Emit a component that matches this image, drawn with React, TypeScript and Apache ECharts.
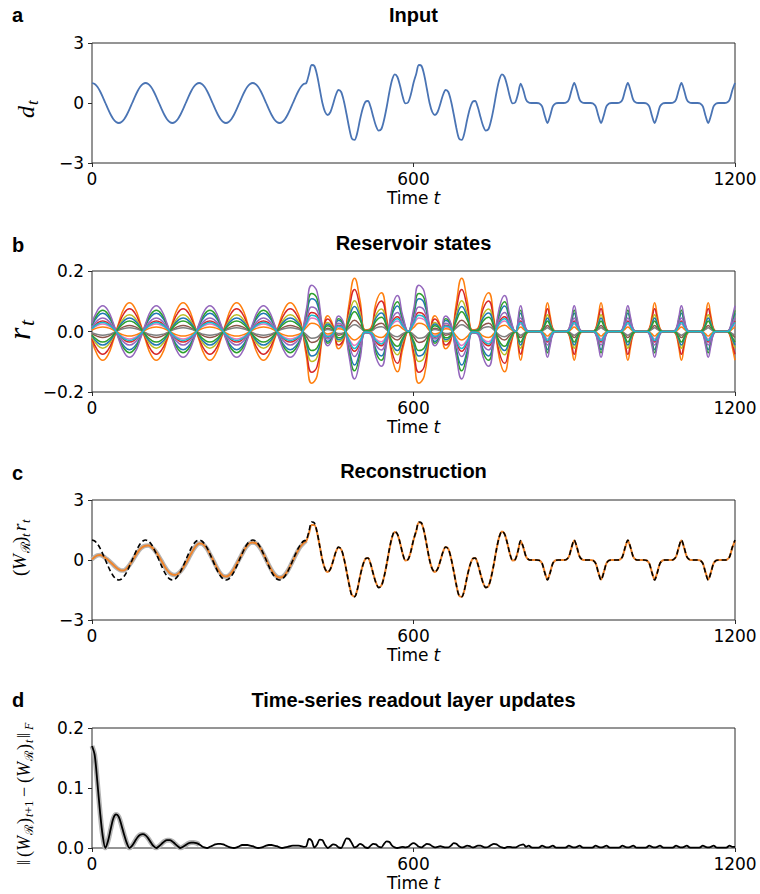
import React, { useEffect, useRef } from "react";
import * as echarts from "echarts";

// ---------- sampling grids (time t) ----------
const T5 = Array.from({ length: 241 }, (_, i) => i * 5);
// reservoir states: step 10 up to t = 790, step 5 from t = 800 (narrow pulses)
const T_RES = [
  ...Array.from({ length: 80 }, (_, i) => i * 10),
  ...Array.from({ length: 81 }, (_, i) => 800 + i * 5),
];

// ---------- panel a: input d_t (t = 0..1200, step 5) ----------
const inputD = [
  1, 0.95, 0.81, 0.59, 0.31, 0, -0.31, -0.59, -0.81, -0.95, -1, -0.95, -0.81, -0.59, -0.31, 0, 0.31, 0.59, 0.81, 0.95,
  1, 0.95, 0.81, 0.59, 0.31, 0, -0.31, -0.59, -0.81, -0.95, -1, -0.95, -0.81, -0.59, -0.31, 0, 0.31, 0.59, 0.81, 0.95,
  1, 0.95, 0.81, 0.59, 0.31, 0, -0.31, -0.59, -0.81, -0.95, -1, -0.95, -0.81, -0.59, -0.31, 0, 0.31, 0.59, 0.81, 0.95,
  1, 0.95, 0.81, 0.59, 0.31, 0, -0.31, -0.59, -0.81, -0.95, -1, -0.95, -0.81, -0.59, -0.31, 0, 0.31, 0.59, 0.81, 0.95,
  1.0, 1.45, 1.9, 1.85, 1.4, 0.7, 0.0, -0.45, -0.6, -0.45, -0.05, 0.4, 0.65, 0.55, 0.1, -0.55, -1.25, -1.78, -1.84, -1.5,
  -0.85, -0.3, 0.05, 0.1, -0.2, -0.7, -1.15, -1.38, -1.3, -0.85, -0.2, 0.55, 1.15, 1.43, 1.3, 0.85, 0.3, -0.02, 0.03, 0.42,
  1.0, 1.45, 1.9, 1.85, 1.4, 0.7, 0.0, -0.45, -0.6, -0.45, -0.05, 0.4, 0.65, 0.55, 0.1, -0.55, -1.25, -1.78, -1.84, -1.5,
  -0.85, -0.3, 0.05, 0.1, -0.2, -0.7, -1.15, -1.38, -1.3, -0.85, -0.2, 0.55, 1.15, 1.43, 1.3, 0.85, 0.3, -0.02, 0.03, 0.45,
  0.97, 0.64, 0.17, 0.02, 0, 0, 0, -0.02, -0.17, -0.64, -1, -0.64, -0.17, -0.02, 0, 0, 0, 0.02, 0.17, 0.64,
  1, 0.64, 0.17, 0.02, 0, 0, 0, -0.02, -0.17, -0.64, -1, -0.64, -0.17, -0.02, 0, 0, 0, 0.02, 0.17, 0.64,
  1, 0.64, 0.17, 0.02, 0, 0, 0, -0.02, -0.17, -0.64, -1, -0.64, -0.17, -0.02, 0, 0, 0, 0.02, 0.17, 0.64,
  1, 0.64, 0.17, 0.02, 0, 0, 0, -0.02, -0.17, -0.64, -1, -0.64, -0.17, -0.02, 0, 0, 0, 0.02, 0.17, 0.64,
  1,
];

// ---------- panel c: reconstruction (W_R)_t r_t (step 5) ----------
const reconD = [
  0.03, 0.15, 0.23, 0.25, 0.2, 0.1, 0.0, -0.12, -0.25, -0.37, -0.47, -0.53, -0.52, -0.42, -0.25, -0.05, 0.17, 0.38, 0.55, 0.66,
  0.71, 0.72, 0.67, 0.55, 0.38, 0.17, -0.06, -0.3, -0.5, -0.65, -0.73, -0.75, -0.7, -0.58, -0.4, -0.18, 0.07, 0.32, 0.55, 0.73,
  0.83, 0.82, 0.72, 0.55, 0.3, 0.05, -0.22, -0.48, -0.68, -0.8, -0.83, -0.78, -0.65, -0.45, -0.2, 0.05, 0.3, 0.55, 0.73, 0.85,
  0.88, 0.85, 0.74, 0.55, 0.3, 0.03, -0.25, -0.5, -0.7, -0.83, -0.87, -0.85, -0.74, -0.55, -0.3, -0.03, 0.25, 0.5, 0.7, 0.85,
  0.95, 1.35, 1.75, 1.75, 1.38, 0.7, 0.0, -0.45, -0.6, -0.45, -0.05, 0.4, 0.63, 0.53, 0.1, -0.55, -1.22, -1.74, -1.82, -1.5,
  -0.85, -0.3, 0.05, 0.1, -0.2, -0.7, -1.13, -1.36, -1.28, -0.85, -0.2, 0.53, 1.12, 1.4, 1.28, 0.85, 0.3, -0.02, 0.03, 0.42,
  1.0, 1.43, 1.87, 1.83, 1.4, 0.7, 0.0, -0.45, -0.6, -0.45, -0.05, 0.4, 0.65, 0.55, 0.1, -0.55, -1.25, -1.78, -1.84, -1.5,
  -0.85, -0.3, 0.05, 0.1, -0.2, -0.7, -1.15, -1.38, -1.3, -0.85, -0.2, 0.55, 1.15, 1.43, 1.3, 0.85, 0.3, -0.02, 0.03, 0.45,
  0.95, 0.62, 0.17, 0.02, 0, 0, 0, -0.02, -0.17, -0.62, -0.97, -0.62, -0.17, -0.02, 0, 0, 0, 0.02, 0.17, 0.62,
  0.97, 0.62, 0.17, 0.02, 0, 0, 0, -0.02, -0.17, -0.62, -0.97, -0.62, -0.17, -0.02, 0, 0, 0, 0.02, 0.17, 0.62,
  0.97, 0.62, 0.17, 0.02, 0, 0, 0, -0.02, -0.17, -0.62, -0.97, -0.62, -0.17, -0.02, 0, 0, 0, 0.02, 0.17, 0.62,
  0.97, 0.62, 0.17, 0.02, 0, 0, 0, -0.02, -0.17, -0.62, -0.97, -0.62, -0.17, -0.02, 0, 0, 0, 0.02, 0.17, 0.62,
  0.95,
];

// ---------- panel d: ||(W_R)_{t+1} - (W_R)_t||_F (step 5) ----------
const updateNorm = [
  0.17, 0.155, 0.11, 0.06, 0.02, 0.0, 0.012, 0.032, 0.05, 0.056, 0.052, 0.038, 0.022, 0.008, 0.0, 0.004, 0.011, 0.018, 0.022, 0.023,
  0.021, 0.016, 0.009, 0.003, 0.0, 0.003, 0.007, 0.011, 0.013, 0.013, 0.011, 0.007, 0.003, 0.0, 0.002, 0.005, 0.008, 0.009, 0.009, 0.008,
  0.006, 0.003, 0.001, 0.0, 0.002, 0.004, 0.006, 0.007, 0.007, 0.006, 0.004, 0.002, 0.0005, 0.0, 0.001, 0.003, 0.005, 0.005, 0.005, 0.004,
  0.003, 0.001, 0.0, 0.0005, 0.002, 0.004, 0.005, 0.005, 0.004, 0.003, 0.001, 0.0, 0.001, 0.002, 0.003, 0.004, 0.004, 0.004, 0.003, 0.002,
  0.003, 0.015, 0.012, 0.001, 0.006, 0.014, 0.013, 0.005, 0.0, 0.003, 0.006, 0.005, 0.001, 0.0, 0.008, 0.016, 0.015, 0.008, 0.001, 0.003,
  0.007, 0.005, 0.001, 0.0, 0.004, 0.007, 0.006, 0.002, 0.001, 0.007, 0.011, 0.01, 0.004, 0.001, 0.0, 0.001, 0.002, 0.001, 0.002, 0.006,
  0.008, 0.006, 0.002, 0.001, 0.004, 0.007, 0.006, 0.003, 0.001, 0.002, 0.003, 0.002, 0.001, 0.001, 0.004, 0.008, 0.007, 0.003, 0.001, 0.002,
  0.004, 0.003, 0.001, 0.002, 0.004, 0.004, 0.002, 0.001, 0.002, 0.005, 0.007, 0.006, 0.003, 0.001, 0.0, 0.002, 0.002, 0.001, 0.001, 0.003,
  0.005, 0.006, 0.002, 0.004, 0.001, 0.0005, 0.0005, 0.001, 0.004, 0.002, 0.001, 0.002, 0.004, 0.001, 0.0005, 0.0005, 0.0005, 0.001, 0.004, 0.002,
  0.001, 0.002, 0.004, 0.001, 0.0005, 0.0005, 0.0005, 0.001, 0.004, 0.002, 0.001, 0.002, 0.004, 0.001, 0.0005, 0.0005, 0.0005, 0.001, 0.004, 0.002,
  0.001, 0.002, 0.004, 0.001, 0.0005, 0.0005, 0.0005, 0.001, 0.004, 0.002, 0.001, 0.002, 0.004, 0.001, 0.0005, 0.0005, 0.0005, 0.001, 0.004, 0.002,
  0.001, 0.002, 0.004, 0.001, 0.0005, 0.0005, 0.0005, 0.001, 0.004, 0.002, 0.001, 0.002, 0.004, 0.001, 0.0005, 0.0005, 0.0005, 0.001, 0.004, 0.002,
  0.002,
];

// ---------- panel b: reservoir states r_t (on T_RES) ----------
const resBlue = [
  0.019, 0.049, 0.06, 0.049, 0.019, -0.019, -0.049, -0.06, -0.049, -0.019,
  0.019, 0.049, 0.06, 0.049, 0.019, -0.019, -0.049, -0.06, -0.049, -0.019,
  0.019, 0.049, 0.06, 0.049, 0.019, -0.019, -0.049, -0.06, -0.049, -0.019,
  0.019, 0.049, 0.06, 0.049, 0.019, -0.019, -0.049, -0.06, -0.049, -0.019,
  0.051, 0.108, 0.093, 0.012, -0.033, -0.012, 0.036, 0.018, -0.06, -0.111, -0.066, -0.003, -0.006, -0.06, -0.081, -0.027, 0.054, 0.084, 0.036, 0,
  0.051, 0.108, 0.093, 0.012, -0.033, -0.012, 0.036, 0.018, -0.06, -0.111, -0.066, -0.003, -0.006, -0.06, -0.081, -0.027, 0.054, 0.084, 0.036, 0,
  0.06, 0.033, 0.006, 0.001, 0, 0, 0, -0.001, -0.006, -0.033, -0.06, -0.033, -0.006, -0.001, 0, 0, 0, 0.001, 0.006, 0.033,
  0.06, 0.033, 0.006, 0.001, 0, 0, 0, -0.001, -0.006, -0.033, -0.06, -0.033, -0.006, -0.001, 0, 0, 0, 0.001, 0.006, 0.033,
  0.06, 0.033, 0.006, 0.001, 0, 0, 0, -0.001, -0.006, -0.033, -0.06, -0.033, -0.006, -0.001, 0, 0, 0, 0.001, 0.006, 0.033,
  0.06, 0.033, 0.006, 0.001, 0, 0, 0, -0.001, -0.006, -0.033, -0.06, -0.033, -0.006, -0.001, 0, 0, 0, 0.001, 0.006, 0.033,
  0.06,
];
const resOrange = [
  -0.029, -0.077, -0.095, -0.077, -0.029, 0.029, 0.077, 0.095, 0.077, 0.029,
  -0.029, -0.077, -0.095, -0.077, -0.029, 0.029, 0.077, 0.095, 0.077, 0.029,
  -0.029, -0.077, -0.095, -0.077, -0.029, 0.029, 0.077, 0.095, 0.077, 0.029,
  -0.029, -0.077, -0.095, -0.077, -0.029, 0.029, 0.077, 0.095, 0.077, 0.029,
  -0.081, -0.171, -0.147, -0.019, 0.052, 0.019, -0.057, -0.029, 0.095, 0.176, 0.105, 0.005, 0.01, 0.095, 0.128, 0.043, -0.086, -0.133, -0.057, 0,
  -0.081, -0.171, -0.147, -0.019, 0.052, 0.019, -0.057, -0.029, 0.095, 0.176, 0.105, 0.005, 0.01, 0.095, 0.128, 0.043, -0.086, -0.133, -0.057, 0,
  -0.095, -0.052, -0.01, -0.001, 0, 0, 0, 0.001, 0.01, 0.052, 0.095, 0.052, 0.01, 0.001, 0, 0, 0, -0.001, -0.01, -0.052,
  -0.095, -0.052, -0.01, -0.001, 0, 0, 0, 0.001, 0.01, 0.052, 0.095, 0.052, 0.01, 0.001, 0, 0, 0, -0.001, -0.01, -0.052,
  -0.095, -0.052, -0.01, -0.001, 0, 0, 0, 0.001, 0.01, 0.052, 0.095, 0.052, 0.01, 0.001, 0, 0, 0, -0.001, -0.01, -0.052,
  -0.095, -0.052, -0.01, -0.001, 0, 0, 0, 0.001, 0.01, 0.052, 0.095, 0.052, 0.01, 0.001, 0, 0, 0, -0.001, -0.01, -0.052,
  -0.095,
];
const resGreen = [
  0.022, 0.057, 0.07, 0.057, 0.022, -0.022, -0.057, -0.07, -0.057, -0.022,
  0.022, 0.057, 0.07, 0.057, 0.022, -0.022, -0.057, -0.07, -0.057, -0.022,
  0.022, 0.057, 0.07, 0.057, 0.022, -0.022, -0.057, -0.07, -0.057, -0.022,
  0.022, 0.057, 0.07, 0.057, 0.022, -0.022, -0.057, -0.07, -0.057, -0.022,
  0.06, 0.126, 0.109, 0.014, -0.039, -0.014, 0.042, 0.021, -0.07, -0.13, -0.077, -0.004, -0.007, -0.07, -0.095, -0.032, 0.063, 0.098, 0.042, 0,
  0.06, 0.126, 0.109, 0.014, -0.039, -0.014, 0.042, 0.021, -0.07, -0.13, -0.077, -0.004, -0.007, -0.07, -0.095, -0.032, 0.063, 0.098, 0.042, 0,
  0.07, 0.039, 0.007, 0.001, 0, 0, 0, -0.001, -0.007, -0.039, -0.07, -0.039, -0.007, -0.001, 0, 0, 0, 0.001, 0.007, 0.039,
  0.07, 0.039, 0.007, 0.001, 0, 0, 0, -0.001, -0.007, -0.039, -0.07, -0.039, -0.007, -0.001, 0, 0, 0, 0.001, 0.007, 0.039,
  0.07, 0.039, 0.007, 0.001, 0, 0, 0, -0.001, -0.007, -0.039, -0.07, -0.039, -0.007, -0.001, 0, 0, 0, 0.001, 0.007, 0.039,
  0.07, 0.039, 0.007, 0.001, 0, 0, 0, -0.001, -0.007, -0.039, -0.07, -0.039, -0.007, -0.001, 0, 0, 0, 0.001, 0.007, 0.039,
  0.07,
];
const resRed = [
  -0.023, -0.061, -0.075, -0.061, -0.023, 0.023, 0.061, 0.075, 0.061, 0.023,
  -0.023, -0.061, -0.075, -0.061, -0.023, 0.023, 0.061, 0.075, 0.061, 0.023,
  -0.023, -0.061, -0.075, -0.061, -0.023, 0.023, 0.061, 0.075, 0.061, 0.023,
  -0.023, -0.061, -0.075, -0.061, -0.023, 0.023, 0.061, 0.075, 0.061, 0.023,
  -0.064, -0.135, -0.116, -0.015, 0.041, 0.015, -0.045, -0.023, 0.075, 0.139, 0.083, 0.004, 0.008, 0.075, 0.101, 0.034, -0.068, -0.105, -0.045, 0,
  -0.064, -0.135, -0.116, -0.015, 0.041, 0.015, -0.045, -0.023, 0.075, 0.139, 0.083, 0.004, 0.008, 0.075, 0.101, 0.034, -0.068, -0.105, -0.045, 0,
  -0.075, -0.041, -0.008, -0.001, 0, 0, 0, 0.001, 0.008, 0.041, 0.075, 0.041, 0.008, 0.001, 0, 0, 0, -0.001, -0.008, -0.041,
  -0.075, -0.041, -0.008, -0.001, 0, 0, 0, 0.001, 0.008, 0.041, 0.075, 0.041, 0.008, 0.001, 0, 0, 0, -0.001, -0.008, -0.041,
  -0.075, -0.041, -0.008, -0.001, 0, 0, 0, 0.001, 0.008, 0.041, 0.075, 0.041, 0.008, 0.001, 0, 0, 0, -0.001, -0.008, -0.041,
  -0.075, -0.041, -0.008, -0.001, 0, 0, 0, 0.001, 0.008, 0.041, 0.075, 0.041, 0.008, 0.001, 0, 0, 0, -0.001, -0.008, -0.041,
  -0.075,
];
const resPurple = [
  0.026, 0.069, 0.085, 0.069, 0.026, -0.026, -0.069, -0.085, -0.069, -0.026,
  0.026, 0.069, 0.085, 0.069, 0.026, -0.026, -0.069, -0.085, -0.069, -0.026,
  0.026, 0.069, 0.085, 0.069, 0.026, -0.026, -0.069, -0.085, -0.069, -0.026,
  0.026, 0.069, 0.085, 0.069, 0.026, -0.026, -0.069, -0.085, -0.069, -0.026,
  0.072, 0.153, 0.132, 0.017, -0.047, -0.017, 0.051, 0.026, -0.085, -0.157, -0.094, -0.004, -0.009, -0.085, -0.115, -0.038, 0.077, 0.119, 0.051, 0,
  0.072, 0.153, 0.132, 0.017, -0.047, -0.017, 0.051, 0.026, -0.085, -0.157, -0.094, -0.004, -0.009, -0.085, -0.115, -0.038, 0.077, 0.119, 0.051, 0,
  0.085, 0.047, 0.009, 0.001, 0, 0, 0, -0.001, -0.009, -0.047, -0.085, -0.047, -0.009, -0.001, 0, 0, 0, 0.001, 0.009, 0.047,
  0.085, 0.047, 0.009, 0.001, 0, 0, 0, -0.001, -0.009, -0.047, -0.085, -0.047, -0.009, -0.001, 0, 0, 0, 0.001, 0.009, 0.047,
  0.085, 0.047, 0.009, 0.001, 0, 0, 0, -0.001, -0.009, -0.047, -0.085, -0.047, -0.009, -0.001, 0, 0, 0, 0.001, 0.009, 0.047,
  0.085, 0.047, 0.009, 0.001, 0, 0, 0, -0.001, -0.009, -0.047, -0.085, -0.047, -0.009, -0.001, 0, 0, 0, 0.001, 0.009, 0.047,
  0.085,
];
const resBrown = [
  -0.006, -0.016, -0.02, -0.016, -0.006, 0.006, 0.016, 0.02, 0.016, 0.006,
  -0.006, -0.016, -0.02, -0.016, -0.006, 0.006, 0.016, 0.02, 0.016, 0.006,
  -0.006, -0.016, -0.02, -0.016, -0.006, 0.006, 0.016, 0.02, 0.016, 0.006,
  -0.006, -0.016, -0.02, -0.016, -0.006, 0.006, 0.016, 0.02, 0.016, 0.006,
  -0.017, -0.036, -0.031, -0.004, 0.011, 0.004, -0.012, -0.006, 0.02, 0.037, 0.022, 0.001, 0.002, 0.02, 0.027, 0.009, -0.018, -0.028, -0.012, 0,
  -0.017, -0.036, -0.031, -0.004, 0.011, 0.004, -0.012, -0.006, 0.02, 0.037, 0.022, 0.001, 0.002, 0.02, 0.027, 0.009, -0.018, -0.028, -0.012, 0,
  -0.02, -0.011, -0.002, 0, 0, 0, 0, 0, 0.002, 0.011, 0.02, 0.011, 0.002, 0, 0, 0, 0, 0, -0.002, -0.011,
  -0.02, -0.011, -0.002, 0, 0, 0, 0, 0, 0.002, 0.011, 0.02, 0.011, 0.002, 0, 0, 0, 0, 0, -0.002, -0.011,
  -0.02, -0.011, -0.002, 0, 0, 0, 0, 0, 0.002, 0.011, 0.02, 0.011, 0.002, 0, 0, 0, 0, 0, -0.002, -0.011,
  -0.02, -0.011, -0.002, 0, 0, 0, 0, 0, 0.002, 0.011, 0.02, 0.011, 0.002, 0, 0, 0, 0, 0, -0.002, -0.011,
  -0.02,
];
const resPink = [
  0.008, 0.02, 0.025, 0.02, 0.008, -0.008, -0.02, -0.025, -0.02, -0.008,
  0.008, 0.02, 0.025, 0.02, 0.008, -0.008, -0.02, -0.025, -0.02, -0.008,
  0.008, 0.02, 0.025, 0.02, 0.008, -0.008, -0.02, -0.025, -0.02, -0.008,
  0.008, 0.02, 0.025, 0.02, 0.008, -0.008, -0.02, -0.025, -0.02, -0.008,
  0.021, 0.045, 0.039, 0.005, -0.014, -0.005, 0.015, 0.008, -0.025, -0.046, -0.028, -0.001, -0.003, -0.025, -0.034, -0.011, 0.023, 0.035, 0.015, 0,
  0.021, 0.045, 0.039, 0.005, -0.014, -0.005, 0.015, 0.008, -0.025, -0.046, -0.028, -0.001, -0.003, -0.025, -0.034, -0.011, 0.023, 0.035, 0.015, 0,
  0.025, 0.014, 0.003, 0, 0, 0, 0, 0, -0.003, -0.014, -0.025, -0.014, -0.003, 0, 0, 0, 0, 0, 0.003, 0.014,
  0.025, 0.014, 0.003, 0, 0, 0, 0, 0, -0.003, -0.014, -0.025, -0.014, -0.003, 0, 0, 0, 0, 0, 0.003, 0.014,
  0.025, 0.014, 0.003, 0, 0, 0, 0, 0, -0.003, -0.014, -0.025, -0.014, -0.003, 0, 0, 0, 0, 0, 0.003, 0.014,
  0.025, 0.014, 0.003, 0, 0, 0, 0, 0, -0.003, -0.014, -0.025, -0.014, -0.003, 0, 0, 0, 0, 0, 0.003, 0.014,
  0.025,
];
const resGray = [
  -0.004, -0.01, -0.012, -0.01, -0.004, 0.004, 0.01, 0.012, 0.01, 0.004,
  -0.004, -0.01, -0.012, -0.01, -0.004, 0.004, 0.01, 0.012, 0.01, 0.004,
  -0.004, -0.01, -0.012, -0.01, -0.004, 0.004, 0.01, 0.012, 0.01, 0.004,
  -0.004, -0.01, -0.012, -0.01, -0.004, 0.004, 0.01, 0.012, 0.01, 0.004,
  -0.01, -0.022, -0.019, -0.002, 0.007, 0.002, -0.007, -0.004, 0.012, 0.022, 0.013, 0.001, 0.001, 0.012, 0.016, 0.005, -0.011, -0.017, -0.007, 0,
  -0.01, -0.022, -0.019, -0.002, 0.007, 0.002, -0.007, -0.004, 0.012, 0.022, 0.013, 0.001, 0.001, 0.012, 0.016, 0.005, -0.011, -0.017, -0.007, 0,
  -0.012, -0.007, -0.001, 0, 0, 0, 0, 0, 0.001, 0.007, 0.012, 0.007, 0.001, 0, 0, 0, 0, 0, -0.001, -0.007,
  -0.012, -0.007, -0.001, 0, 0, 0, 0, 0, 0.001, 0.007, 0.012, 0.007, 0.001, 0, 0, 0, 0, 0, -0.001, -0.007,
  -0.012, -0.007, -0.001, 0, 0, 0, 0, 0, 0.001, 0.007, 0.012, 0.007, 0.001, 0, 0, 0, 0, 0, -0.001, -0.007,
  -0.012, -0.007, -0.001, 0, 0, 0, 0, 0, 0.001, 0.007, 0.012, 0.007, 0.001, 0, 0, 0, 0, 0, -0.001, -0.007,
  -0.012,
];
const resOlive = [
  -0.017, -0.045, -0.055, -0.045, -0.017, 0.017, 0.045, 0.055, 0.045, 0.017,
  -0.017, -0.045, -0.055, -0.045, -0.017, 0.017, 0.045, 0.055, 0.045, 0.017,
  -0.017, -0.045, -0.055, -0.045, -0.017, 0.017, 0.045, 0.055, 0.045, 0.017,
  -0.017, -0.045, -0.055, -0.045, -0.017, 0.017, 0.045, 0.055, 0.045, 0.017,
  -0.047, -0.099, -0.085, -0.011, 0.03, 0.011, -0.033, -0.017, 0.055, 0.102, 0.061, 0.003, 0.006, 0.055, 0.074, 0.025, -0.05, -0.077, -0.033, 0,
  -0.047, -0.099, -0.085, -0.011, 0.03, 0.011, -0.033, -0.017, 0.055, 0.102, 0.061, 0.003, 0.006, 0.055, 0.074, 0.025, -0.05, -0.077, -0.033, 0,
  -0.055, -0.03, -0.006, -0.001, 0, 0, 0, 0.001, 0.006, 0.03, 0.055, 0.03, 0.006, 0.001, 0, 0, 0, -0.001, -0.006, -0.03,
  -0.055, -0.03, -0.006, -0.001, 0, 0, 0, 0.001, 0.006, 0.03, 0.055, 0.03, 0.006, 0.001, 0, 0, 0, -0.001, -0.006, -0.03,
  -0.055, -0.03, -0.006, -0.001, 0, 0, 0, 0.001, 0.006, 0.03, 0.055, 0.03, 0.006, 0.001, 0, 0, 0, -0.001, -0.006, -0.03,
  -0.055, -0.03, -0.006, -0.001, 0, 0, 0, 0.001, 0.006, 0.03, 0.055, 0.03, 0.006, 0.001, 0, 0, 0, -0.001, -0.006, -0.03,
  -0.055,
];
const resBlue2 = [
  -0.014, -0.036, -0.045, -0.036, -0.014, 0.014, 0.036, 0.045, 0.036, 0.014,
  -0.014, -0.036, -0.045, -0.036, -0.014, 0.014, 0.036, 0.045, 0.036, 0.014,
  -0.014, -0.036, -0.045, -0.036, -0.014, 0.014, 0.036, 0.045, 0.036, 0.014,
  -0.014, -0.036, -0.045, -0.036, -0.014, 0.014, 0.036, 0.045, 0.036, 0.014,
  -0.038, -0.081, -0.07, -0.009, 0.025, 0.009, -0.027, -0.014, 0.045, 0.083, 0.05, 0.002, 0.005, 0.045, 0.061, 0.02, -0.041, -0.063, -0.027, 0,
  -0.038, -0.081, -0.07, -0.009, 0.025, 0.009, -0.027, -0.014, 0.045, 0.083, 0.05, 0.002, 0.005, 0.045, 0.061, 0.02, -0.041, -0.063, -0.027, 0,
  -0.045, -0.025, -0.005, 0, 0, 0, 0, 0, 0.005, 0.025, 0.045, 0.025, 0.005, 0, 0, 0, 0, 0, -0.005, -0.025,
  -0.045, -0.025, -0.005, 0, 0, 0, 0, 0, 0.005, 0.025, 0.045, 0.025, 0.005, 0, 0, 0, 0, 0, -0.005, -0.025,
  -0.045, -0.025, -0.005, 0, 0, 0, 0, 0, 0.005, 0.025, 0.045, 0.025, 0.005, 0, 0, 0, 0, 0, -0.005, -0.025,
  -0.045, -0.025, -0.005, 0, 0, 0, 0, 0, 0.005, 0.025, 0.045, 0.025, 0.005, 0, 0, 0, 0, 0, -0.005, -0.025,
  -0.045,
];
const resOrange2 = [
  0.005, 0.012, 0.015, 0.012, 0.005, -0.005, -0.012, -0.015, -0.012, -0.005,
  0.005, 0.012, 0.015, 0.012, 0.005, -0.005, -0.012, -0.015, -0.012, -0.005,
  0.005, 0.012, 0.015, 0.012, 0.005, -0.005, -0.012, -0.015, -0.012, -0.005,
  0.005, 0.012, 0.015, 0.012, 0.005, -0.005, -0.012, -0.015, -0.012, -0.005,
  0.013, 0.027, 0.023, 0.003, -0.008, -0.003, 0.009, 0.005, -0.015, -0.028, -0.017, -0.001, -0.002, -0.015, -0.02, -0.007, 0.014, 0.021, 0.009, 0,
  0.013, 0.027, 0.023, 0.003, -0.008, -0.003, 0.009, 0.005, -0.015, -0.028, -0.017, -0.001, -0.002, -0.015, -0.02, -0.007, 0.014, 0.021, 0.009, 0,
  0.015, 0.008, 0.002, 0, 0, 0, 0, 0, -0.002, -0.008, -0.015, -0.008, -0.002, 0, 0, 0, 0, 0, 0.002, 0.008,
  0.015, 0.008, 0.002, 0, 0, 0, 0, 0, -0.002, -0.008, -0.015, -0.008, -0.002, 0, 0, 0, 0, 0, 0.002, 0.008,
  0.015, 0.008, 0.002, 0, 0, 0, 0, 0, -0.002, -0.008, -0.015, -0.008, -0.002, 0, 0, 0, 0, 0, 0.002, 0.008,
  0.015, 0.008, 0.002, 0, 0, 0, 0, 0, -0.002, -0.008, -0.015, -0.008, -0.002, 0, 0, 0, 0, 0, 0.002, 0.008,
  0.015,
];
const resGreen2 = [
  -0.011, -0.028, -0.035, -0.028, -0.011, 0.011, 0.028, 0.035, 0.028, 0.011,
  -0.011, -0.028, -0.035, -0.028, -0.011, 0.011, 0.028, 0.035, 0.028, 0.011,
  -0.011, -0.028, -0.035, -0.028, -0.011, 0.011, 0.028, 0.035, 0.028, 0.011,
  -0.011, -0.028, -0.035, -0.028, -0.011, 0.011, 0.028, 0.035, 0.028, 0.011,
  -0.03, -0.063, -0.054, -0.007, 0.019, 0.007, -0.021, -0.011, 0.035, 0.065, 0.039, 0.002, 0.004, 0.035, 0.047, 0.016, -0.032, -0.049, -0.021, 0,
  -0.03, -0.063, -0.054, -0.007, 0.019, 0.007, -0.021, -0.011, 0.035, 0.065, 0.039, 0.002, 0.004, 0.035, 0.047, 0.016, -0.032, -0.049, -0.021, 0,
  -0.035, -0.019, -0.004, 0, 0, 0, 0, 0, 0.004, 0.019, 0.035, 0.019, 0.004, 0, 0, 0, 0, 0, -0.004, -0.019,
  -0.035, -0.019, -0.004, 0, 0, 0, 0, 0, 0.004, 0.019, 0.035, 0.019, 0.004, 0, 0, 0, 0, 0, -0.004, -0.019,
  -0.035, -0.019, -0.004, 0, 0, 0, 0, 0, 0.004, 0.019, 0.035, 0.019, 0.004, 0, 0, 0, 0, 0, -0.004, -0.019,
  -0.035, -0.019, -0.004, 0, 0, 0, 0, 0, 0.004, 0.019, 0.035, 0.019, 0.004, 0, 0, 0, 0, 0, -0.004, -0.019,
  -0.035,
];
const resRed2 = [
  0.011, 0.028, 0.035, 0.028, 0.011, -0.011, -0.028, -0.035, -0.028, -0.011,
  0.011, 0.028, 0.035, 0.028, 0.011, -0.011, -0.028, -0.035, -0.028, -0.011,
  0.011, 0.028, 0.035, 0.028, 0.011, -0.011, -0.028, -0.035, -0.028, -0.011,
  0.011, 0.028, 0.035, 0.028, 0.011, -0.011, -0.028, -0.035, -0.028, -0.011,
  0.03, 0.063, 0.054, 0.007, -0.019, -0.007, 0.021, 0.011, -0.035, -0.065, -0.039, -0.002, -0.004, -0.035, -0.047, -0.016, 0.032, 0.049, 0.021, 0,
  0.03, 0.063, 0.054, 0.007, -0.019, -0.007, 0.021, 0.011, -0.035, -0.065, -0.039, -0.002, -0.004, -0.035, -0.047, -0.016, 0.032, 0.049, 0.021, 0,
  0.035, 0.019, 0.004, 0, 0, 0, 0, 0, -0.004, -0.019, -0.035, -0.019, -0.004, 0, 0, 0, 0, 0, 0.004, 0.019,
  0.035, 0.019, 0.004, 0, 0, 0, 0, 0, -0.004, -0.019, -0.035, -0.019, -0.004, 0, 0, 0, 0, 0, 0.004, 0.019,
  0.035, 0.019, 0.004, 0, 0, 0, 0, 0, -0.004, -0.019, -0.035, -0.019, -0.004, 0, 0, 0, 0, 0, 0.004, 0.019,
  0.035, 0.019, 0.004, 0, 0, 0, 0, 0, -0.004, -0.019, -0.035, -0.019, -0.004, 0, 0, 0, 0, 0, 0.004, 0.019,
  0.035,
];
const resPurple2 = [
  0.014, 0.036, 0.045, 0.036, 0.014, -0.014, -0.036, -0.045, -0.036, -0.014,
  0.014, 0.036, 0.045, 0.036, 0.014, -0.014, -0.036, -0.045, -0.036, -0.014,
  0.014, 0.036, 0.045, 0.036, 0.014, -0.014, -0.036, -0.045, -0.036, -0.014,
  0.014, 0.036, 0.045, 0.036, 0.014, -0.014, -0.036, -0.045, -0.036, -0.014,
  0.038, 0.081, 0.07, 0.009, -0.025, -0.009, 0.027, 0.014, -0.045, -0.083, -0.05, -0.002, -0.005, -0.045, -0.061, -0.02, 0.041, 0.063, 0.027, 0,
  0.038, 0.081, 0.07, 0.009, -0.025, -0.009, 0.027, 0.014, -0.045, -0.083, -0.05, -0.002, -0.005, -0.045, -0.061, -0.02, 0.041, 0.063, 0.027, 0,
  0.045, 0.025, 0.005, 0, 0, 0, 0, 0, -0.005, -0.025, -0.045, -0.025, -0.005, 0, 0, 0, 0, 0, 0.005, 0.025,
  0.045, 0.025, 0.005, 0, 0, 0, 0, 0, -0.005, -0.025, -0.045, -0.025, -0.005, 0, 0, 0, 0, 0, 0.005, 0.025,
  0.045, 0.025, 0.005, 0, 0, 0, 0, 0, -0.005, -0.025, -0.045, -0.025, -0.005, 0, 0, 0, 0, 0, 0.005, 0.025,
  0.045, 0.025, 0.005, 0, 0, 0, 0, 0, -0.005, -0.025, -0.045, -0.025, -0.005, 0, 0, 0, 0, 0, 0.005, 0.025,
  0.045,
];
const resCyan = [
  0.009, 0.024, 0.03, 0.024, 0.009, -0.009, -0.024, -0.03, -0.024, -0.009,
  0.009, 0.024, 0.03, 0.024, 0.009, -0.009, -0.024, -0.03, -0.024, -0.009,
  0.009, 0.024, 0.03, 0.024, 0.009, -0.009, -0.024, -0.03, -0.024, -0.009,
  0.009, 0.024, 0.03, 0.024, 0.009, -0.009, -0.024, -0.03, -0.024, -0.009,
  0.026, 0.054, 0.047, 0.006, -0.017, -0.006, 0.018, 0.009, -0.03, -0.056, -0.033, -0.002, -0.003, -0.03, -0.041, -0.014, 0.027, 0.042, 0.018, 0,
  0.026, 0.054, 0.047, 0.006, -0.017, -0.006, 0.018, 0.009, -0.03, -0.056, -0.033, -0.002, -0.003, -0.03, -0.041, -0.014, 0.027, 0.042, 0.018, 0,
  0.03, 0.017, 0.003, 0, 0, 0, 0, 0, -0.003, -0.017, -0.03, -0.017, -0.003, 0, 0, 0, 0, 0, 0.003, 0.017,
  0.03, 0.017, 0.003, 0, 0, 0, 0, 0, -0.003, -0.017, -0.03, -0.017, -0.003, 0, 0, 0, 0, 0, 0.003, 0.017,
  0.03, 0.017, 0.003, 0, 0, 0, 0, 0, -0.003, -0.017, -0.03, -0.017, -0.003, 0, 0, 0, 0, 0, 0.003, 0.017,
  0.03, 0.017, 0.003, 0, 0, 0, 0, 0, -0.003, -0.017, -0.03, -0.017, -0.003, 0, 0, 0, 0, 0, 0.003, 0.017,
  0.03,
];

const reservoirStates = [
  { values: resBlue, color: "#1f77b4" },
  { values: resOrange, color: "#ff7f0e" },
  { values: resGreen, color: "#2ca02c" },
  { values: resRed, color: "#d62728" },
  { values: resPurple, color: "#9467bd" },
  { values: resBrown, color: "#8c564b" },
  { values: resPink, color: "#e377c2" },
  { values: resGray, color: "#7f7f7f" },
  { values: resOlive, color: "#bcbd22" },
  { values: resBlue2, color: "#1f77b4" },
  { values: resOrange2, color: "#ff7f0e" },
  { values: resGreen2, color: "#2ca02c" },
  { values: resRed2, color: "#d62728" },
  { values: resPurple2, color: "#9467bd" },
  { values: resCyan, color: "#17becf" },
];

const panelTitles = ["Input", "Reservoir states", "Reconstruction", "Time-series readout layer updates"];
const panelLetters = ["a", "b", "c", "d"];

// ---------- layout ----------
const PLOT_LEFT = 92;
const PLOT_W = 643;
const GRID_TOPS = [43, 271, 500, 728];
const GRID_H = [120, 121, 120, 120];
const TITLE_Y = [15, 243, 471, 700];
const LETTER_Y = [15, 245, 473, 700];

const pair = (ts: number[], vs: number[]) => vs.map((v, i) => [ts[i], v]);
const MINUS = "\u2212";

const fmtInt = (v: number) => (Math.abs(v) < 1e-9 ? "0" : v < 0 ? MINUS + Math.abs(v) : String(v));
const fmt1 = (v: number) => (Math.abs(v) < 1e-9 ? "0.0" : (v < 0 ? MINUS : "") + Math.abs(v).toFixed(1));

const SERIF = '"Liberation Serif", "DejaVu Serif", serif';
const SANS = '"DejaVu Sans", sans-serif';

type Piece = [string, number, number, number, boolean];
const mathLabels: { cx: number; cy: number; pieces: Piece[] }[] = [
  { cx: 26, cy: 107, pieces: [["d", -11, 24, 0, true], ["t", 2, 17, 6, true]] },
  { cx: 19, cy: 327, pieces: [["r", -13, 32, 0, true], ["t", 1, 22, 7, true]] },
  {
    cx: 19, cy: 547,
    pieces: [
      ["(", -29, 19, 0, false], ["W", -23, 19, 0, true], ["\u211B", -6, 13, 6, false], [")", 4, 19, 0, false],
      ["t", 10, 13, 6, true], ["r", 16, 19, 0, true], ["t", 24, 13, 6, true],
    ],
  },
  {
    cx: 24, cy: 794,
    pieces: [
      ["\u2016", -71, 18, 0, false], ["(", -63, 18, 0, false], ["W", -57, 18, 0, true], ["\u211B", -41, 12, 5, false],
      [")", -30, 18, 0, false], ["t", -23, 12, 5, true], ["+1", -19.5, 12, 5, false], [MINUS, -3, 18, 0, false],
      ["(", 11, 18, 0, false], ["W", 17, 18, 0, true], ["\u211B", 33, 12, 5, false], [")", 44, 18, 0, false],
      ["t", 51, 12, 5, true], ["\u2016", 56, 18, 0, false], ["F", 64, 12, 5, true],
    ],
  },
];

export default function App() {
  const ref = useRef<HTMLDivElement>(null);

  useEffect(() => {
    if (!ref.current) return;
    const chart = echarts.init(ref.current, undefined, { renderer: "svg" });

    const grids = GRID_TOPS.map((top, i) => ({
      left: PLOT_LEFT,
      top,
      width: PLOT_W,
      height: GRID_H[i],
      show: true,
      borderColor: "#2b2b2b",
      borderWidth: 1,
      backgroundColor: "transparent",
    }));

    const xAxes = GRID_TOPS.map((_, i) => ({
      type: "value",
      gridIndex: i,
      position: "bottom",
      min: 0,
      max: 1200,
      interval: 600,
      axisLine: { show: false, onZero: false },
      axisTick: { show: true, length: 4, lineStyle: { color: "#2b2b2b", width: 1 } },
      splitLine: { show: false },
      axisLabel: { fontSize: 17, color: "#000", fontFamily: SANS, margin: 7, formatter: (v: number) => String(v) },
      name: "{n|Time}{i|t}",
      nameLocation: "middle",
      nameGap: 26,
      nameTextStyle: {
        rich: {
          n: { fontSize: 17, color: "#000", fontFamily: SANS },
          i: { fontSize: 17, color: "#000", fontFamily: SANS, fontStyle: "italic", padding: [0, 0, 0, 5] },
        },
      },
    }));

    const yRanges = [
      { min: -3, max: 3, interval: 3, f: fmtInt },
      { min: -0.2, max: 0.2, interval: 0.2, f: fmt1 },
      { min: -3, max: 3, interval: 3, f: fmtInt },
      { min: 0, max: 0.2, interval: 0.1, f: fmt1 },
    ];
    const yAxes = yRanges.map((r, i) => ({
      type: "value",
      gridIndex: i,
      position: "left",
      min: r.min,
      max: r.max,
      interval: r.interval,
      axisLine: { show: false, onZero: false },
      axisTick: { show: true, length: 4, lineStyle: { color: "#2b2b2b", width: 1 } },
      splitLine: { show: false },
      axisLabel: { fontSize: 17, color: "#000", fontFamily: SANS, margin: 8, formatter: r.f },
    }));

    const base = { type: "line", showSymbol: false, silent: true };
    const series: any[] = [];
    series.push({
      ...base, xAxisIndex: 0, yAxisIndex: 0, data: pair(T5, inputD), smooth: 0.3,
      lineStyle: { color: "#4a74b4", width: 1.8 },
    });
    reservoirStates.forEach((s) => {
      series.push({
        ...base, xAxisIndex: 1, yAxisIndex: 1, data: pair(T_RES, s.values), smooth: 0.5,
        lineStyle: { color: s.color, width: 1.5 },
      });
    });
    // uncertainty band (visible mostly during the initial transient)
    series.push({
      ...base, xAxisIndex: 2, yAxisIndex: 2, data: pair(T5, reconD).slice(0, 81), smooth: 0.3,
      lineStyle: { color: "#b5b5b5", width: 4.5 },
    });
    series.push({
      ...base, xAxisIndex: 2, yAxisIndex: 2, data: pair(T5, reconD), smooth: 0.3,
      lineStyle: { color: "#f0842a", width: 2 },
    });
    series.push({
      ...base, xAxisIndex: 2, yAxisIndex: 2, data: pair(T5, inputD), smooth: 0.3,
      lineStyle: { color: "#000", width: 1.6, type: [5, 3] },
    });
    series.push({
      ...base, xAxisIndex: 3, yAxisIndex: 3, data: pair(T5, updateNorm).slice(0, 41), smooth: 0.3,
      lineStyle: { color: "#b5b5b5", width: 5 },
    });
    series.push({
      ...base, xAxisIndex: 3, yAxisIndex: 3, data: pair(T5, updateNorm), smooth: 0.3,
      lineStyle: { color: "#000", width: 1.8 },
    });

    const graphic: any[] = [];
    panelTitles.forEach((t, i) => {
      graphic.push({
        type: "text", x: PLOT_LEFT + PLOT_W / 2, y: TITLE_Y[i], silent: true,
        style: {
          text: t, fontSize: 20, fontWeight: "bold", fontFamily: '"Liberation Sans", Arial, sans-serif',
          fill: "#000", align: "center", verticalAlign: "middle",
        },
      });
      graphic.push({
        type: "text", x: 12, y: LETTER_Y[i], silent: true,
        style: {
          text: panelLetters[i], fontSize: 20, fontWeight: "bold", fontFamily: '"Liberation Sans", Arial, sans-serif',
          fill: "#000", align: "left", verticalAlign: "middle",
        },
      });
    });
    mathLabels.forEach((lab) => {
      graphic.push({
        type: "group", x: lab.cx, y: lab.cy, rotation: Math.PI / 2, silent: true,
        children: lab.pieces.map((p) => ({
          type: "text", x: p[1], y: p[3],
          style: {
            text: p[0], fontSize: p[2], fontStyle: p[4] ? "italic" : "normal", fontFamily: SERIF,
            fill: "#000", align: "left", verticalAlign: "middle",
          },
        })),
      });
    });

    chart.setOption({
      animation: false,
      backgroundColor: "#fff",
      grid: grids,
      xAxis: xAxes,
      yAxis: yAxes,
      series,
      graphic,
    });

    return () => chart.dispose();
  }, []);

  return (
    <div
      ref={ref}
      style={{ position: "absolute", left: 0, top: 0, width: 760, height: 894, background: "#fff" }}
    />
  );
}
